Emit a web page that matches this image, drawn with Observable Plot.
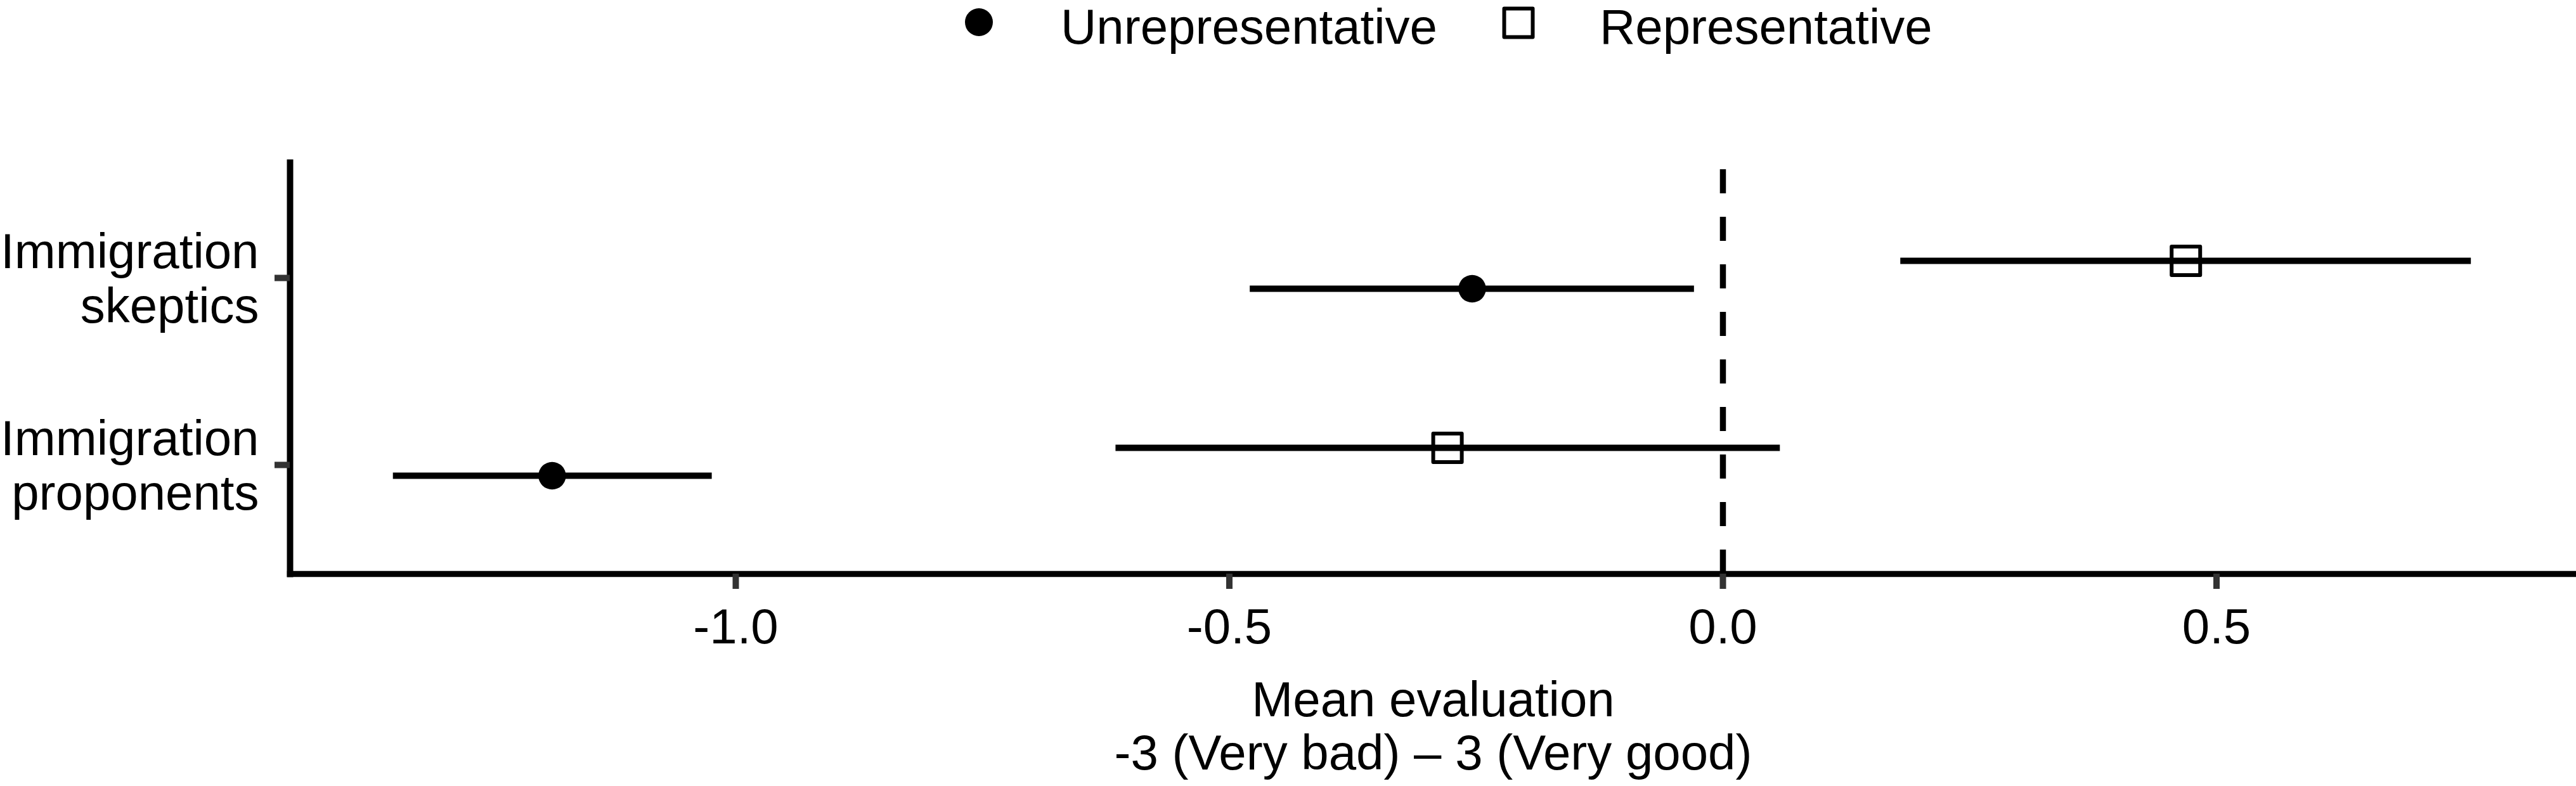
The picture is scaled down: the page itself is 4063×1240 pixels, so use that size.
<!DOCTYPE html>
<html>
<head>
<meta charset="utf-8">
<script src="https://cdn.jsdelivr.net/npm/d3@7"></script>
<script src="https://cdn.jsdelivr.net/npm/@observablehq/plot@0.6"></script>
<style>
  html, body { margin: 0; padding: 0; background: white; }
  body { width: 4063px; height: 1240px; overflow: hidden; font-family: "Liberation Sans", Arial, sans-serif; }
  #legend { position: relative; height: 110px; font-size: 78px; color: black; }
  #legend .sym { position: absolute; top: 5px; width: 60px; height: 60px; }
  #legend .lab { position: absolute; top: 3px; line-height: 78px; white-space: nowrap; }
  #chart svg { display: block; }
</style>
</head>
<body>
<div id="legend"></div>
<div id="chart"></div>
<script>
// ---- data ----
const categories = ["Immigration skeptics", "Immigration proponents"];
const categoryLabels = ["Immigration\nskeptics", "Immigration\nproponents"];
const groups = ["Unrepresentative", "Representative"];

const unrepMean = [-0.254, -1.186];
const unrepLow  = [-0.479, -1.347];
const unrepHigh = [-0.029, -1.024];

const repMean = [0.469, -0.279];
const repLow  = [0.180, -0.615];
const repHigh = [0.758, 0.058];

const xTicks = [-1.0, -0.5, 0.0, 0.5];
const xTitle = ["Mean evaluation", "-3 (Very bad) \u2013 3 (Very good)"];

// ---- tables built from the arrays ----
const unrepRows = categories.map((c, i) => ({cat: c, mean: unrepMean[i], lo: unrepLow[i], hi: unrepHigh[i]}));
const repRows = categories.map((c, i) => ({cat: c, mean: repMean[i], lo: repLow[i], hi: repHigh[i]}));
const labelOf = new Map(categories.map((c, i) => [c, categoryLabels[i]]));

// ---- legend (HTML, above the SVG) ----
const legend = document.getElementById("legend");
legend.innerHTML = `
  <svg class="sym" style="left:1514px" viewBox="0 0 60 60"><circle cx="30" cy="30" r="22" fill="black"/></svg>
  <span class="lab" style="left:1673px">${groups[0]}</span>
  <svg class="sym" style="left:2364.5px;top:5.5px" viewBox="0 0 60 60"><rect x="7.5" y="7.5" width="45" height="45" fill="none" stroke="black" stroke-width="6" stroke-linejoin="round"/></svg>
  <span class="lab" style="left:2523px">${groups[1]}</span>
`;

// ---- chart ----
const font = "78px";
const plot = Plot.plot({
  width: 4063,
  height: 1130,
  marginLeft: 457,
  marginRight: 0,
  marginTop: 146,
  marginBottom: 335,
  style: {fontFamily: "'Liberation Sans', Arial, sans-serif", fontSize: font, background: "white", color: "black"},
  x: {domain: [-1.4515, 0.8645]},
  y: {type: "point", domain: categories, padding: 0.6},
  marks: [
    Plot.ruleX([0], {stroke: "black", strokeWidth: 9.5, strokeDasharray: "38,37", strokeDashoffset: 64}),
    Plot.ruleY(unrepRows, {y: "cat", x1: "lo", x2: "hi", stroke: "black", strokeWidth: 10, dy: 22}),
    Plot.ruleY(repRows, {y: "cat", x1: "lo", x2: "hi", stroke: "black", strokeWidth: 10, dy: -22}),
    Plot.dot(unrepRows, {x: "mean", y: "cat", r: 21.75, fill: "black", dy: 22}),
    Plot.dot(repRows, {x: "mean", y: "cat", symbol: "square", r: 25.4, fill: "none", stroke: "black", strokeWidth: 6, strokeLinejoin: "round", dy: -22}),
    Plot.frame({anchor: "left", stroke: "black", strokeWidth: 10}),
    Plot.frame({anchor: "bottom", stroke: "black", strokeWidth: 9.5}),
    Plot.axisX({ticks: xTicks, tickFormat: d => d.toFixed(1), tickSize: 24, tickPadding: 30, stroke: "#333", strokeWidth: 10, fill: "black", fontSize: 78, label: null}),
    Plot.axisY({tickFormat: d => labelOf.get(d), tickSize: 24, tickPadding: 25, stroke: "#333", strokeWidth: 10, fill: "black", fontSize: 78, lineHeight: 1.1, label: null, dy: 5}),
    Plot.text([xTitle[0]], {text: d => d, frameAnchor: "bottom", lineAnchor: "bottom", dy: 224, fontSize: 78, fill: "black"}),
    Plot.text([xTitle[1]], {text: d => d, frameAnchor: "bottom", lineAnchor: "bottom", dy: 308, fontSize: 78, fill: "black"})
  ]
});
document.getElementById("chart").appendChild(plot);
</script>
</body>
</html>
